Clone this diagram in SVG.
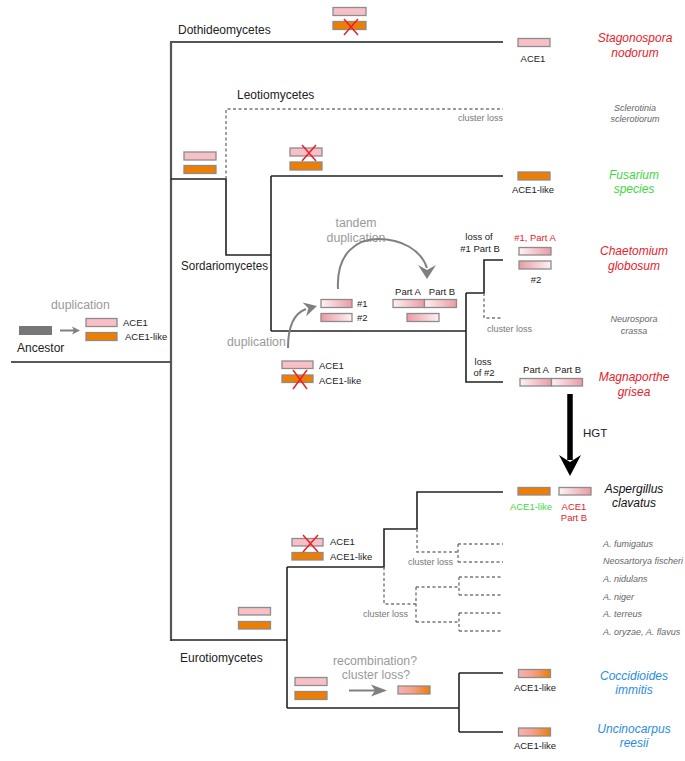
<svg xmlns="http://www.w3.org/2000/svg" width="685" height="761" viewBox="0 0 685 761">
<defs>
<style>
text{font-family:"Liberation Sans",Arial,sans-serif}
.clade{font-size:12px;fill:#222}
.sp{font-size:12px;font-style:italic;text-anchor:middle}
.sm{font-size:9px;font-style:italic;fill:#666}
.lbl{font-size:9.5px;fill:#222}
.ctr{text-anchor:middle}
.gr{font-size:12.3px;fill:#9a9a9a}
.loss{font-size:9px;fill:#777}
.red{fill:#e8202a}
.grn{fill:#3fd83f}
.pk{fill:#f8c0c6;stroke:#8c8c8c;stroke-width:1.3}
.or{fill:#ef7d00;stroke:#8c8c8c;stroke-width:1.3}
.wp{fill:url(#gwp);stroke:#8c8c8c;stroke-width:1.3}
.pw{fill:url(#gpw);stroke:#8c8c8c;stroke-width:1.3}
.po{fill:url(#gpo);stroke:#8c8c8c;stroke-width:1.3}
.x{stroke:#e8202a;stroke-width:1.5;fill:none}
.br{stroke:#222;stroke-width:1.6;fill:none}
.main{stroke:#555;stroke-width:2.2;fill:none}
.dash{stroke:#777;stroke-width:1.4;stroke-dasharray:3 2.5;fill:none}
.garr{stroke:#808080;stroke-width:2;fill:none}
.gah{fill:#808080}
</style>
<linearGradient id="gwp" x1="0" x2="1" y1="0" y2="0"><stop offset="0" stop-color="#fdf2f3"/><stop offset="1" stop-color="#ec9aa3"/></linearGradient>
<linearGradient id="gpw" x1="0" x2="1" y1="0" y2="0"><stop offset="0" stop-color="#ec9aa3"/><stop offset="1" stop-color="#fdf2f3"/></linearGradient>
<linearGradient id="gpo" x1="0" x2="1" y1="0" y2="0"><stop offset="0" stop-color="#f6b3b3"/><stop offset="0.45" stop-color="#f4a08a"/><stop offset="1" stop-color="#ef7d00"/></linearGradient>
</defs>

<g id="connectors">
<path class="br" d="M11,362 H171"/>
<path class="main" d="M171,41 V641"/>
<path class="main" d="M171,42 H503"/>
<path class="br" d="M171,179 H226 V255 H271"/>
<path class="dash" d="M226,179 V109 H503"/>
<path class="br" d="M271,176 V331"/>
<path class="br" d="M271,176 H503"/>
<path class="br" d="M271,331 H466"/>
<path class="br" d="M466,293 V382 H503"/>
<path class="br" d="M466,293 H484 V260 H503"/>
<path class="dash" d="M484,293 V318 H503"/>
<path class="br" d="M171,640 H287"/>
<path class="br" d="M287,567 V708"/>
<path class="br" d="M287,567 H384 V529 H417 V492 H503"/>
<path class="dash" d="M417,529 V552 H458"/>
<path class="dash" d="M458,544 V562 M458,544 H503 M458,562 H503"/>
<path class="dash" d="M384,567 V604 H416"/>
<path class="dash" d="M416,587 V622 M416,587 H459 M416,622 H459"/>
<path class="dash" d="M459,577 V595 M459,577 H503 M459,595 H503"/>
<path class="dash" d="M459,613 V631 M459,613 H503 M459,631 H503"/>
<path class="br" d="M287,708 H459 M459,673 V732 M459,673 H503 M459,732 H503"/>
</g>

<g id="clade-labels">
<text class="clade" x="178" y="34">Dothideomycetes</text>
<text class="clade" x="237" y="99">Leotiomycetes</text>
<text class="clade" x="181" y="270" textLength="87" lengthAdjust="spacingAndGlyphs">Sordariomycetes</text>
<text class="clade" x="180" y="662">Eurotiomycetes</text>
</g>

<g id="ancestor">
<rect x="19" y="326" width="33" height="9" fill="#777"/>
<text class="clade" x="17" y="352">Ancestor</text>
<text class="gr" x="51" y="309">duplication</text>
<path class="garr" d="M60,330.5 H74" stroke-width="1.5"/>
<polygon class="gah" points="80,330.5 72,326.5 74,330.5 72,334.5"/>
<rect class="pk" x="86" y="318.5" width="31" height="8"/>
<rect class="or" x="86" y="332.5" width="31" height="8"/>
<text class="lbl" x="123" y="326">ACE1</text>
<text class="lbl" x="125" y="340">ACE1-like</text>
</g>

<g id="dothideo-event">
<rect class="pk" x="333" y="7.5" width="33" height="8"/>
<rect class="or" x="333" y="21.5" width="33" height="8"/>
<path class="x" d="M344,19 L358,35 M358,19 L344,35"/>
</g>

<g id="leotio-event">
<rect class="pk" x="184" y="152" width="32" height="8"/>
<rect class="or" x="184" y="165.5" width="32" height="8"/>
<text class="loss" x="503" y="121" text-anchor="end">cluster loss</text>
</g>

<g id="sordario-event">
<rect class="pk" x="290" y="148" width="32" height="8"/>
<rect class="or" x="290" y="162" width="32" height="8"/>
<path class="x" d="M302,145 L316,161 M316,145 L302,161"/>
</g>

<g id="stagonospora">
<rect class="pk" x="518" y="38.5" width="32" height="8"/>
<text class="lbl ctr" x="533" y="62">ACE1</text>
<text class="sp red" x="635" y="42">Stagonospora</text>
<text class="sp red" x="635" y="57">nodorum</text>
</g>

<g id="sclerotinia">
<text class="sm ctr" x="635" y="111">Sclerotinia</text>
<text class="sm ctr" x="635" y="122">sclerotiorum</text>
</g>

<g id="fusarium">
<rect class="or" x="518" y="172" width="32" height="8"/>
<text class="lbl ctr" x="533" y="193">ACE1-like</text>
<text class="sp grn" x="634" y="179">Fusarium</text>
<text class="sp grn" x="634" y="193">species</text>
</g>

<g id="sordario-duplication">
<text class="gr ctr" x="356" y="227">tandem</text>
<text class="gr ctr" x="356" y="242">duplication</text>
<path class="garr" d="M338,289 C336,252 358,239 378,239 C402,239 421,250 427,268"/>
<polygon class="gah" points="418,265 427,279 436,265 427,270"/>
<text class="gr" x="227" y="346">duplication</text>
<path class="garr" d="M288,348 C288,330 292,314 306,309"/>
<polygon class="gah" points="317,306 302.6,302.6 308.3,308.3 306.2,316.2"/>
<rect class="wp" x="321" y="299.5" width="31" height="8"/>
<rect class="pw" x="321" y="313.5" width="31" height="8"/>
<text class="lbl" x="357" y="307">#1</text>
<text class="lbl" x="357" y="321">#2</text>
<text class="lbl ctr" x="408" y="295">Part A</text>
<text class="lbl ctr" x="442" y="295">Part B</text>
<rect class="wp" x="393" y="299.5" width="31.5" height="8"/>
<rect class="wp" x="424.5" y="299.5" width="32" height="8"/>
<rect class="pw" x="407" y="313.5" width="32" height="8"/>
<rect class="pk" x="282" y="361" width="31" height="7.5"/>
<rect class="or" x="282" y="375" width="31" height="7.5"/>
<path class="x" d="M293,370 L307,389 M307,370 L293,389"/>
<text class="lbl" x="319" y="369">ACE1</text>
<text class="lbl" x="319" y="384">ACE1-like</text>
</g>

<g id="chaetomium">
<text class="lbl ctr" x="479" y="240">loss of</text>
<text class="lbl ctr" x="480" y="252">#1 Part B</text>
<text class="lbl ctr red" x="535" y="241">#1, Part A</text>
<rect class="wp" x="519" y="247.5" width="32" height="7.5"/>
<rect class="pw" x="519" y="261" width="32" height="8"/>
<text class="lbl ctr" x="536" y="283">#2</text>
<text class="sp red" x="634" y="255">Chaetomium</text>
<text class="sp red" x="634" y="270">globosum</text>
</g>

<g id="neurospora">
<text class="loss" x="487" y="331.5">cluster loss</text>
<text class="sm ctr" x="634" y="322">Neurospora</text>
<text class="sm ctr" x="634" y="333.5">crassa</text>
</g>

<g id="magnaporthe">
<text class="lbl ctr" x="483" y="365">loss</text>
<text class="lbl ctr" x="484" y="376">of #2</text>
<text class="lbl ctr" x="536" y="373">Part A</text>
<text class="lbl ctr" x="568" y="373">Part B</text>
<rect class="wp" x="520" y="378.5" width="31.5" height="7.5"/>
<rect class="wp" x="551.5" y="378.5" width="31" height="7.5"/>
<text class="sp red" x="634" y="381">Magnaporthe</text>
<text class="sp red" x="634" y="396">grisea</text>
</g>

<g id="hgt">
<path d="M570,394 V460" stroke="#000" stroke-width="5.5" fill="none"/>
<polygon points="559,455 570,462 581,455 570,476" fill="#000"/>
<text class="clade" x="583" y="437" style="font-size:11.5px">HGT</text>
</g>

<g id="aspergillus-clavatus">
<rect class="or" x="518" y="487.5" width="32" height="7.5"/>
<rect class="wp" x="559" y="487.5" width="32" height="7.5"/>
<text class="lbl ctr grn" x="531" y="509.5">ACE1-like</text>
<text class="lbl ctr red" x="574" y="509.5">ACE1</text>
<text class="lbl ctr red" x="574" y="521">Part B</text>
<text class="sp" x="634" y="493" fill="#111">Aspergillus</text>
<text class="sp" x="634" y="507" fill="#111">clavatus</text>
</g>

<g id="aspergillus-others">
<text class="loss" x="408" y="564.5">cluster loss</text>
<text class="loss" x="363" y="616.5">cluster loss</text>
<text class="sm" x="603" y="546.5">A. fumigatus</text>
<text class="sm" x="603" y="564">Neosartorya fischeri</text>
<text class="sm" x="603" y="581.5">A. nidulans</text>
<text class="sm" x="603" y="599.5">A. niger</text>
<text class="sm" x="603" y="617">A. terreus</text>
<text class="sm" x="603" y="634.5">A. oryzae, A. flavus</text>
</g>

<g id="eurotio-events">
<rect class="pk" x="238.5" y="607.5" width="32" height="7.5"/>
<rect class="or" x="238.5" y="621.5" width="32" height="7.5"/>
<rect class="pk" x="292" y="538.5" width="31" height="7.5"/>
<rect class="or" x="292" y="552.5" width="31" height="7.5"/>
<path class="x" d="M303,535 L318,552 M318,535 L303,552"/>
<text class="lbl" x="330" y="545">ACE1</text>
<text class="lbl" x="330" y="559.5">ACE1-like</text>
<rect class="pk" x="295" y="677.5" width="32" height="8"/>
<rect class="or" x="295" y="691.5" width="32" height="8"/>
<text class="gr ctr" x="375" y="665">recombination?</text>
<text class="gr ctr" x="376" y="678.5">cluster loss?</text>
<path class="garr" d="M349,690.5 H376"/>
<polygon class="gah" points="387,690.5 371,684.5 375,690.5 371,696.5"/>
<rect class="po" x="398" y="686" width="32" height="8"/>
</g>

<g id="coccidioides">
<rect class="po" x="518.5" y="669.5" width="32" height="8"/>
<text class="lbl ctr" x="535" y="690.5">ACE1-like</text>
<text class="sp" x="634" y="680" fill="#2a8de0">Coccidioides</text>
<text class="sp" x="634" y="694" fill="#2a8de0">immitis</text>
</g>

<g id="uncinocarpus">
<rect class="po" x="518.5" y="728" width="32" height="8"/>
<text class="lbl ctr" x="535" y="748.5">ACE1-like</text>
<text class="sp" x="634" y="732.5" fill="#2a8de0">Uncinocarpus</text>
<text class="sp" x="634" y="747" fill="#2a8de0">reesii</text>
</g>
</svg>
